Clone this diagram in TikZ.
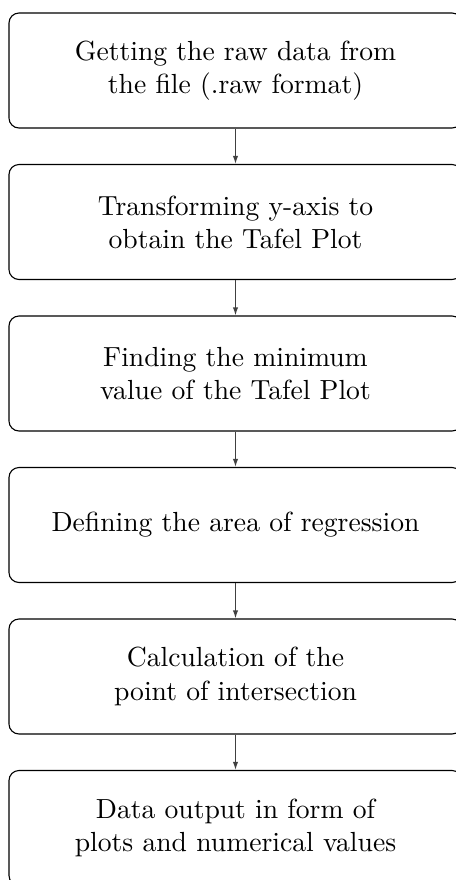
\documentclass[tikz,border=0pt]{standalone}
\usepackage{tikz}
\usetikzlibrary{arrows.meta,positioning}

\tikzset{
  stagebox/.style={rounded corners=3.6pt, draw=black, minimum width=163.9pt,
      minimum height=41.6pt, align=center, text=black, inner sep=2pt},
  stagearrow/.style={-{Latex[length=2.9pt,width=1.9pt]}, draw=black!75}
}

\begin{document}
\begin{tikzpicture}[x=0.3618pt, y=-0.3618pt]
\useasboundingbox (0,0) rectangle (456,880);
\clip (0,0) rectangle (456,880);
% processing stages
\node[stagebox] (raw)    at (235.5,70.5)  {Getting the raw data from\\the file (.raw format)};
\node[stagebox] (tafel)  at (235.5,222)   {Transforming y-axis to\\obtain the Tafel Plot};
\node[stagebox] (minval) at (235.5,373.5) {Finding the minimum\\value of the Tafel Plot};
\node[stagebox] (area)   at (235.5,525)   {Defining the area of regression};
\node[stagebox] (inters) at (235.5,676.5) {Calculation of the\\point of intersection};
\node[stagebox] (output) at (235.5,828)   {Data output in form of\\plots and numerical values};
% connectors
\foreach \from/\to in {raw/tafel, tafel/minval, minval/area, area/inters, inters/output}
  \draw[stagearrow] (\from) -- (\to);
\end{tikzpicture}
\end{document}
